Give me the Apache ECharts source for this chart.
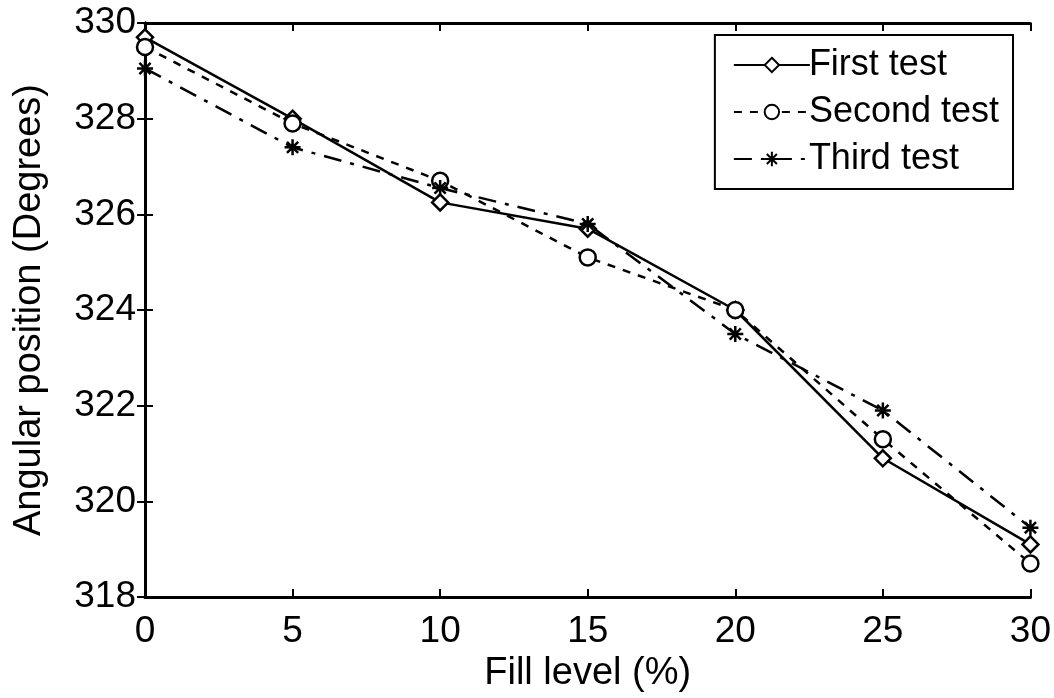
<!DOCTYPE html>
<html><head><meta charset="utf-8">
<script src="https://cdn.jsdelivr.net/npm/echarts@6/dist/echarts.min.js"></script>
<style>html,body{margin:0;padding:0;background:#fff}#c{width:1054px;height:698px}</style>
</head><body><div id="c"></div>
<script>
const fillLevels = [0, 5, 10, 15, 20, 25, 30];
const firstTest  = [329.7, 328.0, 326.25, 325.7, 324.0, 320.9, 319.1];
const secondTest = [329.5, 327.9, 326.7, 325.1, 324.0, 321.3, 318.7];
const thirdTest  = [329.05, 327.4, 326.55, 325.8, 323.5, 321.9, 319.45];
const seriesNames = ['First test', 'Second test', 'Third test'];
const yTicks = [318, 320, 322, 324, 326, 328, 330];

const star = 'path://M0,-10 L0,10 M-10,0 L10,0 M-7,-7 L7,7 M-7,7 L7,-7';
const font = '"Liberation Sans", Arial, sans-serif';
const pairs = a => fillLevels.map((x, i) => [x, a[i]]);

const chart = echarts.init(document.getElementById('c'), null, {renderer: 'canvas'});
const axisLine = {show: true, lineStyle: {color: '#000', width: 3}};
const tick = {show: true, inside: true, length: 8, lineStyle: {color: '#000', width: 2}};
chart.setOption({
  animation: false,
  backgroundColor: '#fff',
  grid: {left: 145, right: 21, top: 23, bottom: 93, containLabel: false},
  xAxis: [{
    type: 'value', min: 0, max: 30, interval: 5, position: 'bottom',
    name: 'Fill level (%)', nameLocation: 'middle', nameGap: 58,
    nameTextStyle: {fontFamily: font, fontSize: 38, color: '#000'},
    axisLine, axisTick: tick, splitLine: {show: false},
    axisLabel: {fontFamily: font, fontSize: 37, color: '#000', margin: 16, showMaxLabel: true}
  }, {
    type: 'value', min: 0, max: 30, interval: 5, position: 'top',
    axisLine, axisTick: tick, splitLine: {show: false}, axisLabel: {show: false}
  }],
  yAxis: [{
    type: 'value', min: yTicks[0], max: yTicks[yTicks.length - 1], interval: 2, position: 'left',
    name: 'Angular position (Degrees)', nameLocation: 'middle', nameGap: 96, nameRotate: 90,
    nameTextStyle: {fontFamily: font, fontSize: 38, color: '#000'},
    axisLine, axisTick: tick, splitLine: {show: false},
    axisLabel: {fontFamily: font, fontSize: 37, color: '#000', margin: 9}
  }, {
    type: 'value', min: 318, max: 330, interval: 2, position: 'right',
    axisLine, axisTick: tick, splitLine: {show: false}, axisLabel: {show: false}
  }],
  legend: {
    right: 41, top: 35, orient: 'vertical',
    padding: [12, 14, 12, 18],
    itemGap: 11, itemWidth: 76, itemHeight: 18,
    borderColor: '#000', borderWidth: 2, backgroundColor: '#fff',
    textStyle: {fontFamily: font, fontSize: 36, color: '#000', padding: [0, 0, 0, -6]},
    data: seriesNames
  },
  series: [
    {name: seriesNames[0], type: 'line', data: pairs(firstTest), symbol: 'diamond', symbolSize: 16,
     lineStyle: {color: '#000', width: 2.5, type: 'solid'},
     itemStyle: {color: '#fff', borderColor: '#000', borderWidth: 2.5}},
    {name: seriesNames[1], type: 'line', data: pairs(secondTest), symbol: 'circle', symbolSize: 16,
     lineStyle: {color: '#000', width: 2.5, type: [8, 8]},
     itemStyle: {color: '#fff', borderColor: '#000', borderWidth: 2.5}},
    {name: seriesNames[2], type: 'line', data: pairs(thirdTest), symbol: star, symbolSize: 16,
     lineStyle: {color: '#000', width: 2.5, type: [18, 9, 4, 9]},
     itemStyle: {color: '#000', borderColor: '#000', borderWidth: 2.5}}
  ]
});
</script></body></html>
